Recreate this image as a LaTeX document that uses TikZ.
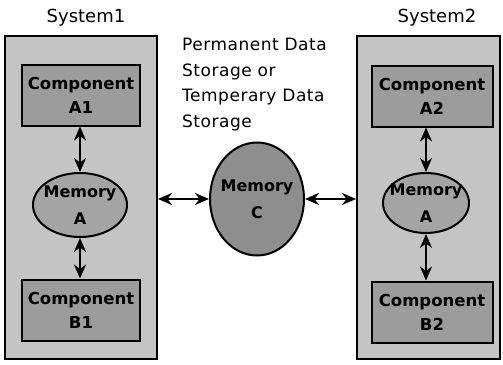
\documentclass[tikz,border=0pt]{standalone}
\usepackage{fontspec}
\setmainfont{DejaVu Sans}
\usetikzlibrary{positioning,arrows.meta,shapes.geometric}
\definecolor{sysfill}{HTML}{C4C4C4}
\definecolor{compfill}{HTML}{9C9C9C}
\definecolor{memfill}{HTML}{A4A4A4}
\definecolor{sharedfill}{HTML}{8E8E8E}

\begin{document}
\begin{tikzpicture}[x=1pt, y=-1pt,
        system/.style={rectangle, draw, fill=sysfill, line width=2pt,
        minimum width=#1, minimum height=323pt},
        comp/.style={rectangle, draw, fill=compfill, line width=2pt,
        minimum width=#1, minimum height=61pt, align=center,
        font=\fontsize{16.5}{24}\selectfont\bfseries, inner sep=1pt},
        mem/.style={ellipse, draw, fill=#1, line width=2pt, align=center,
        font=\fontsize{16}{27}\selectfont\bfseries, inner sep=-10pt},
        link/.style={{Stealth[length=14pt, width=12pt]}-{Stealth[length=14pt,
        width=12pt]}, line width=2.6pt},
        systitle/.style={font=\fontsize{18}{20}\selectfont, anchor=base,
        inner sep=0pt},
      ]
      \useasboundingbox (0, 0) rectangle (503, 364);

      \node[systitle] (t1) at (86, 23) {System1};
      \node[systitle] (t2) at (437, 23) {System2};

      \node[system=152pt] (sys1) at (81, 197.5) {};
      \node[system=143pt] (sys2) at (428.5, 197.5) {};

      \node[comp=118pt] (ca1) at (81, 95) {Component\\A1};
      \node[comp=118pt] (cb1) at (81, 310) {Component\\B1};
      \node[comp=121pt] (ca2) at (432, 96) {Component\\A2};
      \node[comp=121pt] (cb2) at (432, 312) {Component\\B2};

      \node[mem=memfill, minimum width=94pt, minimum height=64pt] (ma1)
      at (80, 205) {Memory\\A};
      \node[mem=memfill, minimum width=86pt, minimum height=60pt] (ma2)
      at (426, 203) {Memory\\A};
      \node[mem=sharedfill, minimum width=94pt, minimum height=113pt]
      (mc) at (257, 199) {Memory\\C};

      \node[font=\fontsize{17}{25.7}\selectfont\addfontfeature{LetterSpace=3},
      anchor=north west, align=left, inner sep=0pt] (note) at (182, 38)
      {Permanent Data\\Storage or\\Temperary Data\\Storage};

      \draw[link] (ca1.south -| ma1.north) -- (ma1);
      \draw[link] (ma1) -- (cb1.north -| ma1.south);
      \draw[link] (ca2.south -| ma2.north) -- (ma2);
      \draw[link] (ma2) -- (cb2.north -| ma2.south);

      \draw[link] (sys1.east |- mc.west) -- (mc);
      \draw[link] (mc) -- (sys2.west |- mc.east);
    \end{tikzpicture}
\end{document}
